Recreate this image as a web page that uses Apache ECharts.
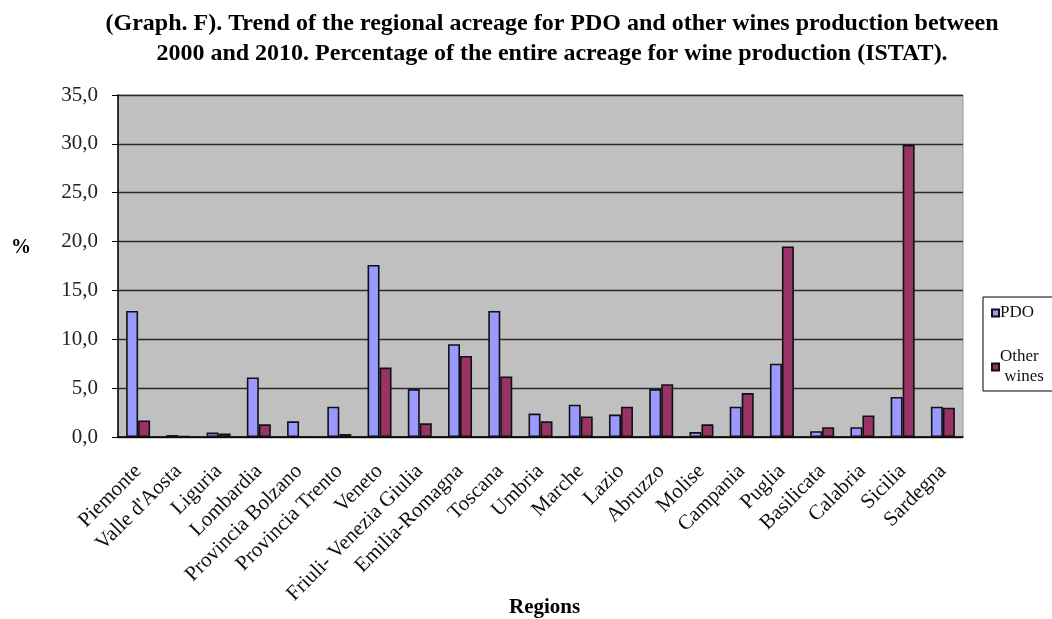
<!DOCTYPE html>
<html><head><meta charset="utf-8">
<script src="https://cdn.jsdelivr.net/npm/echarts@6/dist/echarts.min.js"></script>
<style>html,body{margin:0;padding:0;background:#fff}#c{width:1052px;height:619px}</style>
</head><body><div id="c"></div>
<script>
const categories = ["Piemonte","Valle d'Aosta","Liguria","Lombardia","Provincia Bolzano","Provincia Trento","Veneto","Friuli- Venezia Giulia","Emilia-Romagna","Toscana","Umbria","Marche","Lazio","Abruzzo","Molise","Campania","Puglia","Basilicata","Calabria","Sicilia","Sardegna"];
const pdo =   [12.9,0.2,0.45,6.1,1.6,3.1,17.6,4.9,9.5,12.9,2.4,3.3,2.3,4.9,0.5,3.1,7.5,0.6,1.0,4.1,3.1];
const other = [1.7,0.1,0.35,1.3,0.05,0.3,7.1,1.4,8.3,6.2,1.6,2.1,3.1,5.4,1.3,4.5,19.5,1.0,2.2,29.9,3.0];
const seriesNames = ["PDO","Other wines"];
const yTicks = {min:0,max:35,interval:5};
const serif = "'Liberation Serif','DejaVu Serif',serif";
const chart = echarts.init(document.getElementById('c'));
chart.setOption({
  animation:false,
  backgroundColor:'#fff',
  title:{
    text:'(Graph. F). Trend of the regional acreage for PDO and other wines production between\n2000 and 2010. Percentage of the entire acreage for wine production (ISTAT).',
    left:547, top:4, textAlign:'center',
    textStyle:{fontFamily:serif,fontWeight:'bold',fontSize:24,lineHeight:30,color:'#000'}
  },
  graphic:[
    {type:'text',left:11,top:238,style:{text:'%',fontFamily:serif,fontWeight:'bold',fontSize:20,fill:'#000'}},
    {type:'text',left:509,top:597,style:{text:'Regions',fontFamily:serif,fontWeight:'bold',fontSize:21,fill:'#000'}}
  ],
  grid:{left:118,right:89,top:95,bottom:182,show:true,backgroundColor:'#C0C0C0',borderColor:'#9a9a9a',borderWidth:1},
  legend:{
    orient:'vertical', left:983, top:297, width:80,
    data:seriesNames,
    itemWidth:7,itemHeight:7,itemGap:24,icon:'rect',
    borderColor:'#000',borderWidth:1,padding:[6,20,4,8],
    backgroundColor:'#fff',
    formatter:n=>n==='Other wines'?'Other\n wines':n,
    textStyle:{fontFamily:serif,fontSize:17,color:'#111',lineHeight:20,padding:[0,0,0,-4]}
  },
  xAxis:{
    type:'category',data:categories,
    axisLine:{lineStyle:{color:'#000',width:1.5}},
    axisTick:{show:false},
    axisLabel:{rotate:45,interval:0,fontFamily:serif,fontSize:21,color:'#111',margin:31}
  },
  yAxis:{
    type:'value',min:yTicks.min,max:yTicks.max,interval:yTicks.interval,
    axisLine:{show:true,lineStyle:{color:'#000',width:1.5}},
    axisTick:{show:true,length:6,lineStyle:{color:'#000'}},
    splitLine:{lineStyle:{color:'#2a2a2a',width:1.4}},
    axisLabel:{fontFamily:serif,fontSize:21,color:'#222',margin:20,formatter:v=>v.toFixed(1).replace('.',',')}
  },
  series:[
    {name:seriesNames[0],type:'bar',data:pdo,barWidth:12,barGap:'0%',
     itemStyle:{color:'#9999FF',borderColor:'#111',borderWidth:1.6}},
    {name:seriesNames[1],type:'bar',data:other,barWidth:12,barGap:'0%',
     itemStyle:{color:'#993366',borderColor:'#111',borderWidth:1.6}}
  ]
});
</script></body></html>
